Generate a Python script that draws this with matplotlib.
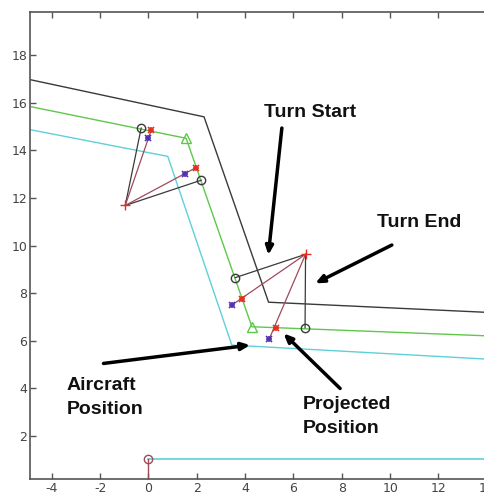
import matplotlib.pyplot as plt

plt.rcParams["axes.unicode_minus"] = False

# route polylines (x, y)
black_x = [-6.0, 2.3, 4.97, 16.0]
black_y = [17.2, 15.4, 7.62, 7.1]
green_x = [-6.0, 1.56, 4.28, 16.0]
green_y = [16.06, 14.5, 6.59, 6.13]
cyan_x = [-6.0, 0.8, 3.45, 16.0]
cyan_y = [15.08, 13.74, 5.82, 5.12]
base_x = [0.0, 16.0]
base_y = [1.02, 1.02]

# upper guidance group
ac1 = (-0.96, 11.68)
circ1_x = [-0.3, 2.18]
circ1_y = [14.93, 12.74]
red1_x = [0.11, 1.97]
red1_y = [14.83, 13.27]
pur1_x = [0.0, 1.53]
pur1_y = [14.53, 13.0]

# lower guidance group
ac2 = (6.5, 9.63)
circ2_x = [3.59, 6.48]
circ2_y = [8.65, 6.55]
red2_x = [3.89, 5.27]
red2_y = [7.76, 6.55]
pur2_x = [3.45, 4.99]
pur2_y = [7.5, 6.06]

tri_x = [1.56, 4.28]
tri_y = [14.5, 6.59]

# annotations: text, text pos, arrow tail, arrow head
notes = [
    ("Turn Start", (4.8, 15.58), (5.52, 14.93), (4.96, 9.6)),
    ("Turn End", (9.45, 10.97), (10.07, 10.02), (6.9, 8.41)),
    ("Aircraft\nPosition", (-3.4, 3.62), (-1.86, 5.05), (4.21, 5.82)),
    ("Projected\nPosition", (6.4, 2.82), (7.93, 4.0), (5.59, 6.31)),
]

c_black = "#3a3a3a"
c_green = "#5fc84a"
c_cyan = "#5fd0d8"
c_maroon = "#a04a5a"
c_red = "#e03020"
c_purple = "#5030b0"

fig = plt.figure(figsize=(4.85, 4.96), dpi=100)
ax = fig.add_axes([30 / 485, 17 / 496, 481 / 485, 467 / 496])

ax.plot(black_x, black_y, color=c_black, lw=1)
ax.plot(green_x, green_y, color=c_green, lw=1)
ax.plot(cyan_x, cyan_y, color=c_cyan, lw=1)
ax.plot(base_x, base_y, color=c_cyan, lw=1.2)
ax.plot([0, 0], [1.02, -1], color=c_maroon, lw=1)
ax.plot(0, 1.02, "o", mfc="none", mec=c_maroon, ms=6)

ax.plot(tri_x, tri_y, "^", mfc="none", mec=c_green, ms=7)

# upper group
for cx, cy in zip(circ1_x, circ1_y):
    ax.plot([ac1[0], cx], [ac1[1], cy], color=c_black, lw=0.9)
for rx, ry in zip(red1_x, red1_y):
    ax.plot([ac1[0], rx], [ac1[1], ry], color=c_maroon, lw=0.9)
ax.plot(ac1[0], ac1[1], "+", color=c_red, ms=7, mew=1)

# lower group
for cx, cy in zip(circ2_x, circ2_y):
    ax.plot([ac2[0], cx], [ac2[1], cy], color=c_black, lw=0.9)
for px, py in zip(pur2_x, pur2_y):
    ax.plot([ac2[0], px], [ac2[1], py], color=c_maroon, lw=0.9)
ax.plot(ac2[0], ac2[1], "+", color=c_red, ms=7, mew=1)

ax.plot(circ1_x + circ2_x, circ1_y + circ2_y, "o", mfc="none", mec=c_black, ms=6)
for m in ["+", "x"]:
    ax.plot(red1_x + red2_x, red1_y + red2_y, m, color=c_red, ms=5, mew=1.2)
    ax.plot(pur1_x + pur2_x, pur1_y + pur2_y, m, color=c_purple, ms=4.5, mew=1.2)

for text, tpos, tail, head in notes:
    ax.text(tpos[0], tpos[1], text, fontsize=14, fontweight="bold",
            family="Liberation Sans", color="#111111", va="center", ha="left",
            linespacing=1.5)
    ax.annotate("", xy=head, xytext=tail,
                arrowprops=dict(arrowstyle="-|>,head_length=0.5,head_width=0.22",
                                color="black", lw=2.5, shrinkA=0, shrinkB=0))

ax.set_xlim(-4.9, 15)
ax.set_ylim(0.2, 19.8)
ax.set_xticks(range(-4, 16, 2))
ax.set_yticks(range(2, 20, 2))
ax.tick_params(direction="in", top=True, right=True, length=4, width=1, pad=2,
               colors="#555555", labelcolor="#444444", labelsize=9)
for s in ax.spines.values():
    s.set_color("#555555")
    s.set_linewidth(1.2)

fig.savefig("out.png", dpi=100)
